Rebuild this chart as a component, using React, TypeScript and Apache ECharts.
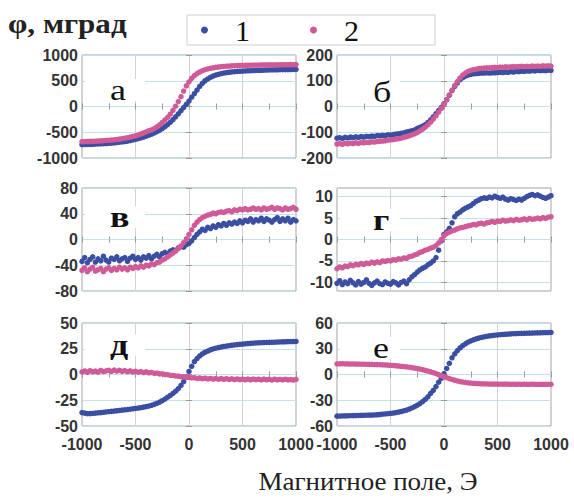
import React, { useEffect, useRef } from "react";
import * as echarts from "echarts";

// Magnetic field, Oe (x)
const FIELD = [-1000,-975,-950,-925,-900,-875,-850,-825,-800,-775,-750,-725,-700,-675,-650,-625,-600,-575,-550,-525,-500,-475,-450,-425,-400,-375,-350,-325,-300,-275,-250,-225,-200,-175,-150,-125,-100,-75,-50,-25,0,25,50,75,100,125,150,175,200,225,250,275,300,325,350,375,400,425,450,475,500,525,550,575,600,625,650,675,700,725,750,775,800,825,850,875,900,925,950,975,1000];

// panel а
const A1 = [-740,-738,-737,-735,-733,-730,-728,-726,-722,-719,-715,-711,-706,-700,-694,-688,-680,-672,-662,-650,-638,
  -624,-610,-594,-577,-558,-537,-514,-488,-460,-428,-392,-352,-306,-255,-200,-142,-82,-20,42,105,
  180,250,320,390,450,500,535,565,590,610,625,640,650,658,665,671,676,680,684,687,
  690,693,696,698,700,702,704,706,707,709,710,712,713,714,715,716,717,718,719,720];
const A2 = [-682,-680,-679,-677,-675,-673,-670,-667,-664,-660,-656,-651,-646,-640,-633,-625,-616,-606,-595,-582,-568,
  -552,-534,-514,-492,-470,-452,-428,-395,-355,-310,-262,-210,-150,-75,5,95,190,300,400,480,
  545,600,640,670,695,715,730,742,752,760,767,773,778,782,786,789,792,794,796,798,
  800,801,802,803,804,805,806,807,808,808,809,810,810,811,811,812,812,813,813,814];
// panel б
const B1 = [-123,-121,-124,-120,-122,-119,-121,-118,-120,-117,-119,-116,-117,-115,-116,-113,-114,-112,-113,-110,-111,
  -109,-107,-106,-104,-102,-99,-97,-94,-91,-85,-81,-76,-70,-62,-52,-40,-28,-16,-3,11,
  27,44,62,78,92,104,112,118,122,125,127,128,129,130,130,131,130,131,131,132,
  133,132,134,133,135,134,136,135,137,136,138,137,139,138,140,139,140,139,141,140];
const B2 = [-146,-144,-147,-143,-145,-142,-144,-141,-143,-140,-141,-139,-140,-137,-138,-136,-135,-134,-133,-131,-130,
  -129,-127,-125,-123,-120,-117,-114,-110,-106,-101,-95,-88,-80,-71,-61,-49,-36,-22,-7,9,
  26,44,63,81,97,111,122,130,136,140,143,145,147,148,149,150,150,151,152,151,
  153,152,154,153,154,155,154,155,156,155,156,155,157,156,157,156,158,157,158,157];
// panel в
const C1 = [-34,-28,-36,-31,-27,-35,-30,-33,-26,-32,-35,-29,-31,-27,-33,-30,-28,-34,-29,-26,-31,
  -28,-32,-27,-29,-25,-30,-26,-23,-27,-22,-20,-22,-18,-16,-17,-13,-11,-12,-8,-6,
  -2,3,8,12,16,14,19,17,21,19,23,21,25,22,26,24,27,25,29,26,
  30,28,32,27,31,29,33,28,32,30,27,31,34,28,32,29,33,27,31,29];
const C2 = [-48,-44,-50,-46,-43,-49,-47,-45,-50,-46,-44,-48,-45,-47,-43,-46,-44,-47,-43,-45,-42,
  -44,-41,-43,-40,-41,-38,-39,-36,-35,-32,-30,-27,-24,-21,-18,-14,-10,-5,1,8,
  15,22,27,31,34,36,38,39,41,40,42,43,42,44,45,43,46,45,47,46,
  48,46,47,49,47,48,46,49,47,48,50,47,49,48,46,49,47,48,50,47];
// panel г
const D1 = [-10.2,-9.6,-10.5,-9.9,-10.3,-9.5,-10.1,-10.6,-9.8,-10.4,-10.0,-9.4,-10.2,-10.7,-10.1,-9.7,-10.3,-10.5,-9.9,-10.2,-10.4,
  -9.8,-10.1,-10.6,-10.0,-9.7,-10.3,-9.4,-8.7,-8.2,-7.6,-7.1,-6.7,-6.4,-5.9,-5.5,-5.0,-4.2,-2.5,-0.3,1.2,
  1.8,2.6,3.9,5.3,6.0,6.4,6.9,7.3,7.6,7.9,8.4,8.9,9.2,9.5,9.7,9.6,9.9,9.7,10.1,9.8,
  9.6,9.9,9.4,9.2,9.5,9.3,9.1,9.4,9.2,9.6,10.0,10.3,10.5,10.2,10.4,10.1,9.8,9.6,9.9,10.2];
const D2 = [-6.8,-6.4,-6.6,-6.2,-6.3,-5.9,-6.1,-5.8,-5.9,-5.6,-5.8,-5.5,-5.6,-5.3,-5.5,-5.2,-5.4,-5.0,-5.1,-4.9,-5.0,
  -4.7,-4.8,-4.5,-4.6,-4.3,-4.4,-4.0,-3.9,-3.6,-3.4,-3.0,-2.8,-2.5,-2.3,-2.0,-1.8,-1.4,-0.8,0.0,0.9,
  1.4,1.7,2.0,2.2,2.5,2.7,2.8,3.0,3.2,3.3,3.5,3.4,3.7,3.8,3.6,3.9,4.0,4.2,4.0,4.3,
  4.2,4.5,4.3,4.4,4.6,4.4,4.7,4.5,4.6,4.8,4.6,4.9,4.7,4.8,5.0,4.8,5.1,4.9,5.2,5.3];
// panel д
const E1 = [-37,-37.5,-38,-38,-37.8,-37.5,-37.2,-37,-36.7,-36.4,-36.1,-35.8,-35.5,-35.2,-34.9,-34.6,-34.3,-34,-33.7,-33.3,-33,
  -32.6,-32.2,-31.7,-31.2,-30.6,-29.9,-29,-28,-26.8,-25.4,-23.8,-22,-20.3,-18.4,-16.2,-13.6,-10.6,-7,-2.5,3,
  8,12.5,15.5,18,20,21.6,22.8,23.9,24.8,25.5,26.1,26.7,27.2,27.6,28,28.4,28.7,29,29.3,29.6,
  29.8,30,30.2,30.4,30.6,30.8,30.9,31,31.1,31.2,31.3,31.4,31.5,31.6,31.7,31.8,31.9,32,32,32.1];
const E2 = [2.5,3.4,2.1,3.8,2.6,3.3,2.2,3.9,2.8,3.5,4.1,3.0,4.3,3.2,4.0,3.1,3.7,2.7,3.5,2.4,3.1,
  2.2,2.9,1.9,2.6,1.6,2.0,1.1,1.4,0.6,0.7,0.0,-0.2,-0.8,-0.9,-1.5,-1.6,-2.2,-2.3,-2.8,-2.7,
  -3.3,-3.1,-3.8,-3.4,-4.1,-3.6,-4.3,-3.8,-4.5,-3.9,-4.6,-4.0,-4.7,-4.1,-4.8,-4.2,-4.9,-4.3,-5.0,-4.4,
  -5.1,-4.5,-5.2,-4.4,-5.0,-4.6,-5.3,-4.5,-5.1,-4.7,-5.4,-4.6,-5.2,-4.8,-5.3,-4.7,-5.2,-4.9,-5.4,-4.8];
// panel е
const F1 = [-48.5,-48.4,-48.3,-48.2,-48.1,-48,-47.9,-47.8,-47.7,-47.6,-47.5,-47.4,-47.3,-47.3,-47.1,-46.9,-46.6,-46.3,-46,-45.7,-45.3,
  -44.9,-44.4,-43.8,-43.1,-42.3,-41.4,-40.3,-39,-37.5,-35.8,-33.8,-31.5,-29,-26,-22,-18.5,-14,-9,-4.5,1,
  7,13,19.5,24,27.8,31,33.6,35.8,37.6,39.1,40.4,41.5,42.4,43.2,43.9,44.5,45,45.4,45.8,46.1,
  46.4,46.7,46.9,47.1,47.3,47.5,47.6,47.8,47.9,48,48.1,48.2,48.3,48.4,48.5,48.6,48.7,48.8,48.9,49];
const F2 = [12.5,12.4,12.6,12.3,12.4,12.2,12.3,12.1,12.2,12.0,12.0,11.9,11.8,11.8,11.6,11.5,11.4,11.2,11.1,10.9,10.7,
  10.5,10.2,9.9,9.6,9.3,8.9,8.5,8.0,7.5,6.9,6.3,5.6,4.8,4.0,3.1,2.1,1.0,-0.1,-1.3,-2.5,
  -3.7,-4.8,-5.8,-6.7,-7.5,-8.2,-8.8,-9.3,-9.7,-10.0,-10.3,-10.5,-10.7,-10.8,-10.9,-11.0,-11.1,-11.1,-11.2,-11.2,
  -11.3,-11.3,-11.2,-11.3,-11.4,-11.3,-11.4,-11.3,-11.4,-11.3,-11.4,-11.4,-11.3,-11.4,-11.5,-11.4,-11.4,-11.5,-11.4,-11.5];

const LETTERS = ["а", "б", "в", "г", "д", "е"];
const SERIES_1 = [A1, B1, C1, D1, E1, F1];
const SERIES_2 = [A2, B2, C2, D2, E2, F2];
const Y_MIN = [-1000, -200, -80, -12, -50, -60];
const Y_MAX = [1000, 200, 80, 12, 50, 60];
const Y_INTERVAL = [500, 100, 40, 5, 25, 30];
const Y_TICKS_G = [-10, -5, 0, 5, 10];
const LEGEND_NAMES = ["1", "2"];
const Y_TITLE = "φ, мград";
const X_TITLE = "Магнитное поле, Э";

// layout (pixels)
const COL_LEFT = [82, 337];
const ROW_TOP = [55, 188, 323];
const PLOT_W = 214;
const PLOT_H = 103;
const LETTER_DY = [35, 37, 29, 32, 22, 25];
const LETTER_BOLD = [false, false, true, true, true, false];

const BLUE = "#3a4ea2";
const PINK = "#d05a97";
const LABEL_FONT = { fontFamily: "Arial, 'Liberation Sans', sans-serif", fontWeight: "bold" as const, fontSize: 16, color: "#333" };
const SERIF = "'Times New Roman', 'Liberation Serif', serif";
const plain = (v: number) => String(v);

export default function App() {
  const ref = useRef<HTMLDivElement>(null);
  useEffect(() => {
    if (!ref.current) return;
    const chart = echarts.init(ref.current, undefined, { renderer: "svg" });
    const grid: any[] = [];
    const xAxis: any[] = [];
    const yAxis: any[] = [];
    const series: any[] = [];
    const graphic: any[] = [];
    for (let k = 0; k < 6; k++) {
      const col = k % 2;
      const row = Math.floor(k / 2);
      const left = COL_LEFT[col];
      const top = ROW_TOP[row];
      grid.push({ left, top, width: PLOT_W, height: PLOT_H, show: true, borderColor: "#a3a3a3", borderWidth: 1, backgroundColor: "transparent" });
      const bottomRow = row === 2;
      xAxis.push({
        type: "value", gridIndex: k, position: "bottom", min: -1000, max: 1000, interval: 500,
        axisLine: { show: false },
        axisTick: { show: true, inside: true, length: 3, lineStyle: { color: "#999" } },
        minorTick: { show: true, splitNumber: 2, length: 3, lineStyle: { color: "#999" } },
        axisLabel: { show: bottomRow, margin: 10, ...LABEL_FONT, formatter: plain },
        splitLine: { show: true, lineStyle: { color: "#d3d3d3", width: 1 } },
      });
      xAxis.push({
        type: "value", gridIndex: k, position: "top", min: -1000, max: 1000, interval: 500,
        axisLine: { show: false },
        axisTick: { show: true, inside: true, length: 3, lineStyle: { color: "#999" } },
        minorTick: { show: true, splitNumber: 2, length: 3, lineStyle: { color: "#999" } },
        axisLabel: { show: false },
        splitLine: { show: false },
      });
      const isG = k === 3;
      const yBase: any = {
        type: "value", gridIndex: k, min: Y_MIN[k], max: Y_MAX[k],
        axisLine: { show: false },
      };
      if (!isG) yBase.interval = Y_INTERVAL[k];
      yAxis.push({
        ...yBase, position: "left",
        axisTick: { show: true, inside: true, length: 3, lineStyle: { color: "#999" }, ...(isG ? { customValues: Y_TICKS_G } : {}) },
        axisLabel: { show: true, margin: 4, ...LABEL_FONT, formatter: plain, ...(isG ? { customValues: Y_TICKS_G } : {}) },
        splitLine: { show: true, lineStyle: { color: "#c4e2ee", width: 1 } },
      });
      yAxis.push({
        ...yBase, position: "right",
        axisTick: { show: true, inside: true, length: 3, lineStyle: { color: "#999" }, ...(isG ? { customValues: Y_TICKS_G } : {}) },
        axisLabel: { show: false },
        splitLine: { show: false },
      });
      [SERIES_1[k], SERIES_2[k]].forEach((vals, j) => {
        series.push({
          type: "scatter", name: LEGEND_NAMES[j], xAxisIndex: 2 * k, yAxisIndex: 2 * k,
          data: FIELD.map((x, i) => [x, vals[i]]),
          symbol: "circle", symbolSize: 5.5,
          itemStyle: { color: j === 0 ? BLUE : PINK, opacity: 1 },
          emphasis: { disabled: true }, z: 3 + j,
        });
      });
      const ly = top + LETTER_DY[k];
      graphic.push({ type: "rect", z: 1, silent: true, shape: { x: left + 3, y: ly - 11, width: 60, height: 22 }, style: { fill: "#fff" } });
      graphic.push({
        type: "text", z: 10, x: left + (col === 0 ? 28 : 36), y: ly, scaleX: 1.2,
        style: { text: LETTERS[k], fontFamily: SERIF, fontSize: 30, fontWeight: LETTER_BOLD[k] ? "bold" : "normal", fill: "#111", textAlign: "left", textVerticalAlign: "middle", align: "left", verticalAlign: "middle" },
      });
    }
    graphic.push({
      type: "text", z: 10, x: 8, y: 24, scaleX: 1.15,
      style: { text: Y_TITLE, fontFamily: SERIF, fontSize: 27, fontWeight: "bold", fill: "#222", textAlign: "left", textVerticalAlign: "middle", align: "left", verticalAlign: "middle" },
    });
    graphic.push({
      type: "text", z: 10, x: 368, y: 482, scaleX: 1.08,
      style: { text: X_TITLE, fontFamily: SERIF, fontSize: 25, fill: "#222", textAlign: "center", textVerticalAlign: "middle", align: "center", verticalAlign: "middle" },
    });

    chart.setOption({
      animation: false,
      backgroundColor: "#fff",
      grid, xAxis, yAxis, series, graphic,
      legend: {
        data: LEGEND_NAMES, left: 187, top: 15, orient: "horizontal",
        icon: "circle", itemWidth: 7, itemHeight: 7, itemGap: 60,
        padding: [0, 76, 0, 14], borderColor: "#cfcfcf", borderWidth: 1,
        selectedMode: false,
        textStyle: { fontFamily: SERIF, fontSize: 30, color: "#111", padding: [0, 0, 0, 22], lineHeight: 25 },
      },
    });
    return () => chart.dispose();
  }, []);
  return <div ref={ref} style={{ position: "fixed", left: 0, top: 0, width: 574, height: 499 }} />;
}
